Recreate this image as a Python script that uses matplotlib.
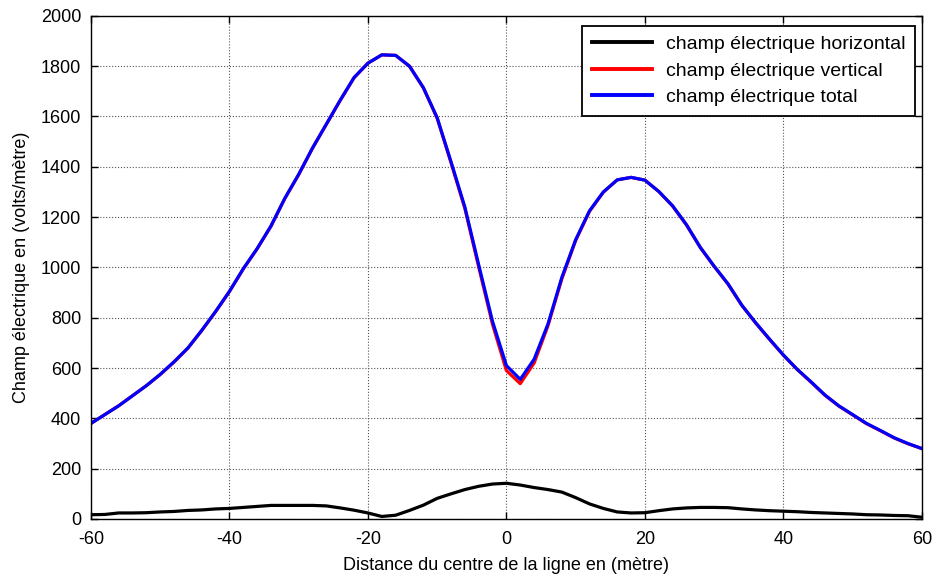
import matplotlib
matplotlib.use("Agg")
import matplotlib.pyplot as plt

# distance from line centre (m)
distance = list(range(-60, 61, 2))

# horizontal electric field (V/m)
e_horizontal = [17, 18, 24, 24, 25, 28, 30, 34, 36, 40, 42, 46, 50, 54, 54, 54,
                54, 52, 44, 35, 24, 10, 15, 34, 55, 82, 100, 117, 130, 139, 142,
                135, 125, 117, 107, 85, 60, 42, 28, 24, 25, 33, 40, 44, 46, 46,
                45, 40, 36, 33, 31, 29, 26, 24, 22, 20, 17, 16, 14, 13, 7]

# vertical electric field (V/m)
e_vertical = [380, 415, 450, 490, 530, 574, 624, 679, 749, 824, 904, 994, 1074,
              1164, 1274, 1369, 1474, 1569, 1664, 1754, 1812, 1845, 1843, 1800,
              1714, 1593, 1416, 1234, 1001, 773, 590, 538, 620, 768, 954, 1107,
              1223, 1299, 1348, 1358, 1347, 1302, 1244, 1169, 1079, 1004, 934,
              849, 779, 714, 651, 594, 544, 492, 449, 414, 379, 351, 322, 299, 280]

# total electric field (V/m)
e_total = [380, 415, 450, 490, 530, 575, 625, 680, 750, 825, 905, 995, 1075,
           1165, 1275, 1370, 1475, 1570, 1665, 1755, 1812, 1845, 1843, 1800,
           1715, 1595, 1420, 1240, 1010, 785, 610, 555, 635, 775, 960, 1110,
           1225, 1300, 1348, 1358, 1347, 1302, 1245, 1170, 1080, 1005, 935,
           850, 780, 715, 652, 595, 545, 493, 450, 415, 380, 352, 323, 300, 280]

plt.rcParams.update({
    "font.family": ["Liberation Sans", "DejaVu Sans"],
    "font.size": 13,
    "axes.unicode_minus": False,
    "xtick.direction": "in",
    "ytick.direction": "in",
    "xtick.top": True,
    "ytick.right": True,
})

fig = plt.figure(figsize=(9.34, 5.75), dpi=100)
ax = fig.add_axes([0.0974, 0.0974, 0.8896, 0.875])

ax.plot(distance, e_horizontal, color="black", lw=2.3, label="champ électrique horizontal")
ax.plot(distance, e_vertical, color="red", lw=2.3, label="champ électrique vertical")
ax.plot(distance, e_total, color="blue", lw=2.3, label="champ électrique total")

ax.set_xlim(-60, 60)
ax.set_ylim(0, 2000)
ax.set_xticks(range(-60, 61, 20))
ax.set_yticks(range(0, 2001, 200))
ax.grid(True, color="#555555", linestyle=":", linewidth=0.8)
for s in ax.spines.values():
    s.set_linewidth(1.0)
ax.tick_params(length=5, width=1.0, labelsize=13)
ax.tick_params(axis="x", pad=9)
ax.tick_params(axis="y", pad=7)

ax.set_xlabel("Distance du centre de la ligne en (mètre)", fontsize=13, labelpad=6)
ax.set_ylabel("Champ électrique en (volts/mètre)", fontsize=13, labelpad=8)

leg = ax.legend(loc="upper right", bbox_to_anchor=(0.9916, 0.980), borderaxespad=0,
                fontsize=14, fancybox=False, framealpha=1, edgecolor="black",
                handlelength=3.1, borderpad=0.5, labelspacing=0.45,
                handletextpad=0.7)
leg.get_frame().set_linewidth(1.3)
for line in leg.get_lines():
    line.set_linewidth(2.8)

fig.savefig("out.png", dpi=100)
